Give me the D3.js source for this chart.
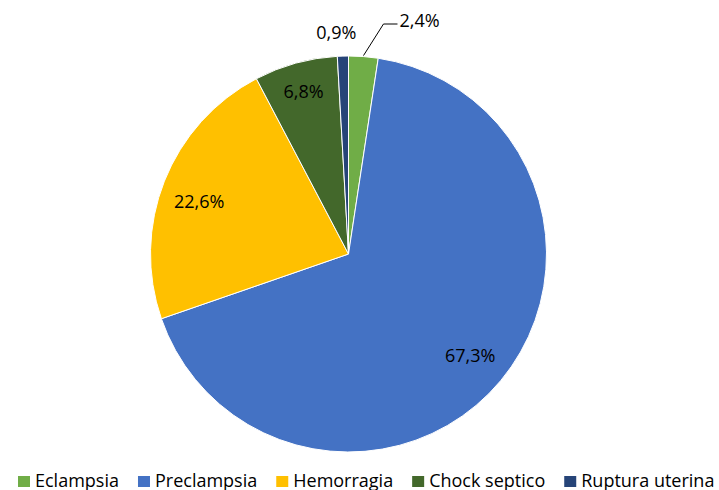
<!DOCTYPE html>
<html>
<head>
<meta charset="utf-8">
<script src="https://cdn.jsdelivr.net/npm/d3@7"></script>
<style>
  body { margin: 0; background: #fff; }
  svg { display: block; font-family: "Open Sans", sans-serif; }
</style>
</head>
<body>
<svg id="chart" width="719" height="490"></svg>
<script>
// data
const categories = ["Eclampsia", "Preclampsia", "Hemorragia", "Chock septico", "Ruptura uterina"];
const values = [2.4, 67.3, 22.6, 6.8, 0.9];
const labels = ["2,4%", "67,3%", "22,6%", "6,8%", "0,9%"];
const colors = ["#70AD47", "#4472C4", "#FFC000", "#43682B", "#264478"];

const svg = d3.select("#chart");
const cx = 348.5, cy = 254, R = 198;

const pie = d3.pie().sort(null).value(d => d)(values);
const arc = d3.arc().innerRadius(0).outerRadius(R);

const g = svg.append("g").attr("transform", `translate(${cx},${cy})`);

g.selectAll("path.slice")
  .data(pie)
  .enter()
  .append("path")
  .attr("class", "slice")
  .attr("d", arc)
  .attr("fill", (d, i) => colors[i])
  .attr("stroke", "#fff")
  .attr("stroke-width", 1);

// label placement: inside ones on an arc at ~0.81R, small slices outside
const labelR = [0, 0.8, 0.8, 0.85, 0];
const nudge = [[0, 0], [0, 0], [-2, 6], [0, 0], [0, 0]];
const polar = (a, r) => [Math.sin(a) * r, -Math.cos(a) * r];

pie.forEach((d, i) => {
  const mid = (d.startAngle + d.endAngle) / 2;
  let x, y, anchor = "middle";
  if (i === 0) {
    // leader line for Eclampsia
    const p0 = polar(mid, R + 1);
    const p1 = [p0[0] + 20, -R - 32];
    const p2 = [p1[0] + 14, p1[1]];
    g.append("polyline")
      .attr("points", [p0, p1, p2].map(p => p.join(",")).join(" "))
      .attr("fill", "none")
      .attr("stroke", "#000")
      .attr("stroke-width", 1);
    x = p2[0] + 2; y = p1[1] - 3; anchor = "start";
  } else if (i === 4) {
    [x, y] = polar(mid, R + 23);
    x -= 6;
  } else {
    [x, y] = polar(mid, R * labelR[i]);
    x += nudge[i][0]; y += nudge[i][1];
  }
  g.append("text")
    .attr("x", x)
    .attr("y", y)
    .attr("dy", "0.35em")
    .attr("text-anchor", anchor)
    .attr("font-size", 18)
    .attr("fill", "#000")
    .text(labels[i]);
});

// legend along the bottom
const legend = svg.append("g");
let lx = 18;
categories.forEach((c, i) => {
  legend.append("rect")
    .attr("x", lx).attr("y", 476)
    .attr("width", 12).attr("height", 11)
    .attr("fill", colors[i]);
  const t = legend.append("text")
    .attr("x", lx + 17).attr("y", 487)
    .attr("font-size", 18)
    .attr("fill", "#000")
    .text(c);
  lx += 17 + t.node().getComputedTextLength() + 19;
});
</script>
</body>
</html>
